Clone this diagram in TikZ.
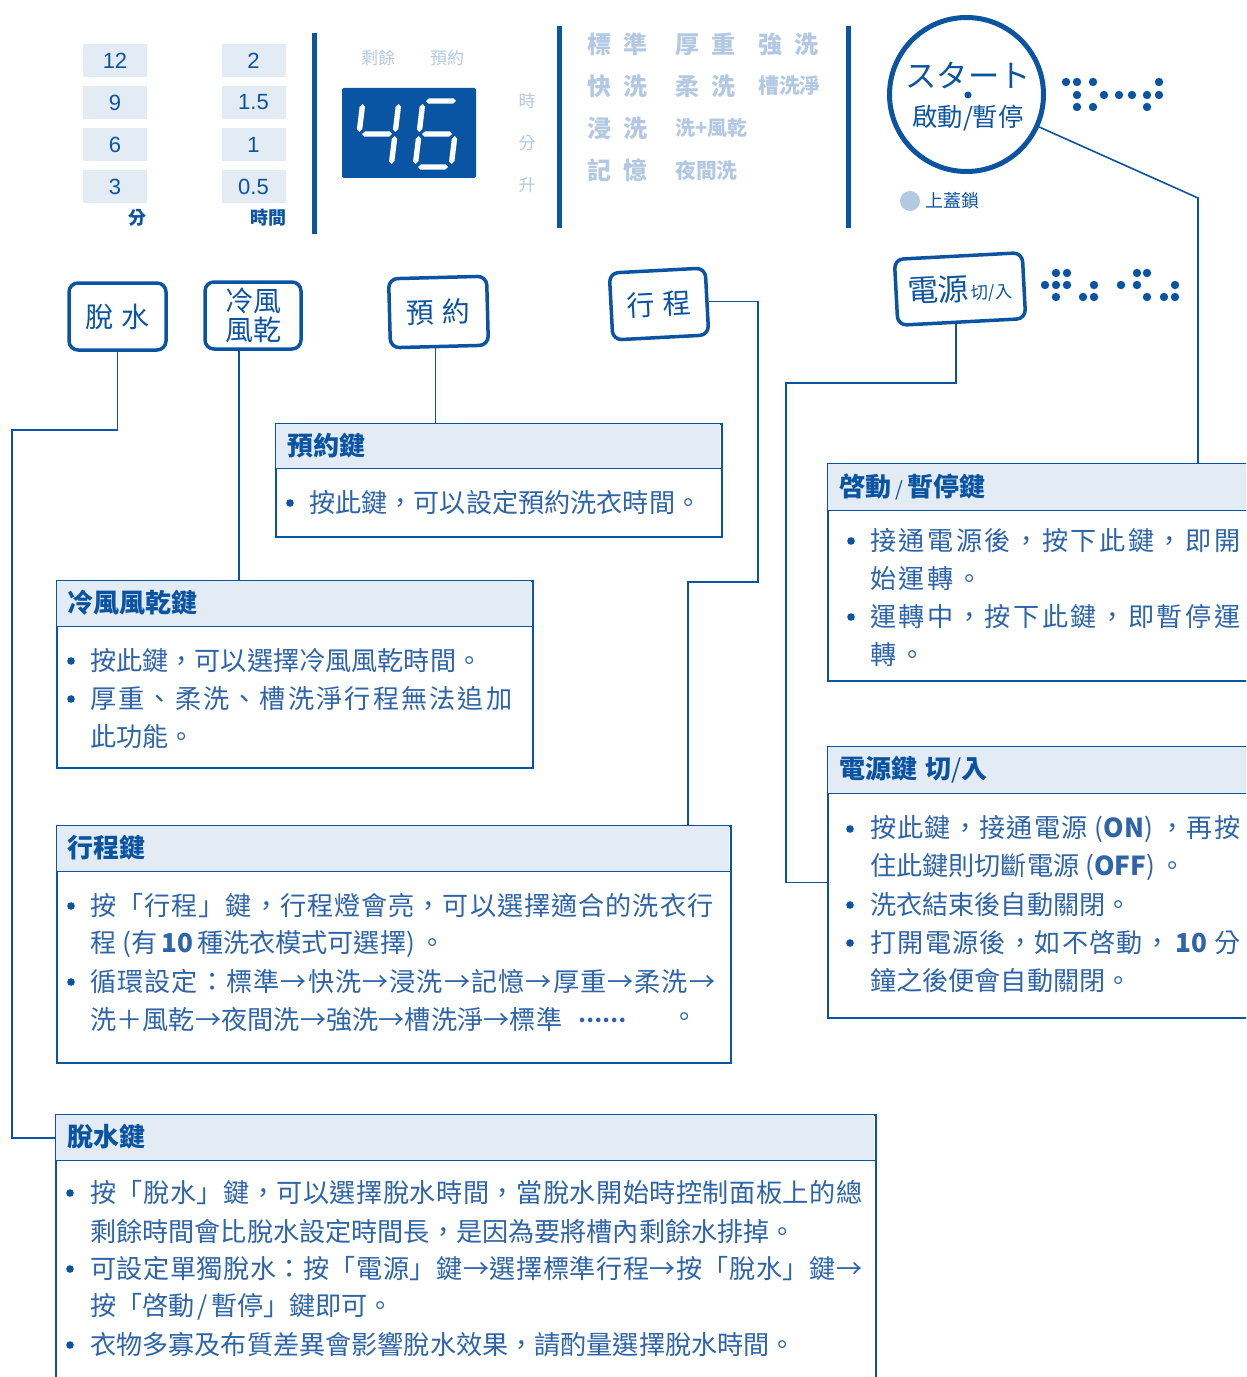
\documentclass[tikz,border=0pt]{standalone}
\usepackage{fontspec}
\setmainfont{Noto Sans CJK TC}
\newfontfamily\latinf{Liberation Sans}
\usetikzlibrary{calc}
\newlength{\upx}\setlength{\upx}{0.75pt}
\definecolor{dblue}{HTML}{0B54A2}
\definecolor{tblue}{HTML}{2D64AA}
\definecolor{lblue}{HTML}{B3C9E3}
\definecolor{pale}{HTML}{E3EBF5}
\definecolor{dispblue}{HTML}{0A55A3}
\newcommand\fz[1]{\fontsize{#1}{#1}\selectfont}
\makeatletter
\def\jl@stop{jlstop}
\def\jl@a#1{#1\jl@b}
\def\jl@b#1{\ifx\jl@stop#1\else\hfil#1\expandafter\jl@b\fi}
\newcommand\jline[2]{\hbox to #1{\jl@a#2\jl@stop}}
\makeatother
\newcommand\ONp{\hspace{6\upx}(\textbf{ON})\hspace{4\upx}}
\newcommand\TEN{\hspace{4\upx}\textbf{10}\hspace{4\upx}}
\newcommand\hsg[3]{\fill[white] (#1,#3) -- ({#1+2.7},{#3-2.7}) -- ({#2-2.7},{#3-2.7}) -- (#2,#3) -- ({#2-2.7},{#3+2.7}) -- ({#1+2.7},{#3+2.7}) -- cycle;}
\newcommand\vsg[3]{\fill[white] (#1,#2) -- ({#1+2.7},{#2+2.7}) -- ({#1+2.7},{#3-2.7}) -- (#1,#3) -- ({#1-2.7},{#3-2.7}) -- ({#1-2.7},{#2+2.7}) -- cycle;}
\tikzset{
  conn/.style={draw=dblue, line width=1.6\upx},
  btn/.style={draw=dblue, line width=3.5\upx, rounded corners=9\upx, fill=white, text=dblue, inner sep=0, font=\fz{21pt}},
  kbox/.style={draw=dblue, line width=2\upx, fill=white, anchor=north west, inner sep=0},
  hdr/.style={fill=pale, anchor=north west, inner sep=0},
  hline/.style={draw=dblue, line width=1\upx},
  htxt/.style={anchor=west, inner sep=0, text=dblue, font=\bfseries\fz{19.5pt}},
  btxt/.style={anchor=west, inner sep=0, text=tblue, font=\fz{19.6pt}},
  numbox/.style={fill=pale, minimum width=64\upx, minimum height=33\upx, inner sep=0, text=dblue, font=\latinf\fz{16.5pt}},
  prog/.style={anchor=west, inner sep=0, text=lblue, font=\bfseries\fz{18pt}},
  progs/.style={anchor=west, inner sep=0, text=lblue, font=\bfseries\fz{15.6pt}},
  dimtxt/.style={inner sep=0, text=lblue, font=\fz{12.75pt}},
  unit/.style={inner sep=0, text=dblue, font=\bfseries\fz{13.5pt}},
}
\begin{document}
\begin{tikzpicture}[x=0.75pt,y=-0.75pt]
\path[use as bounding box] (0,0) rectangle (1246,1377);
\clip (0,0) rectangle (1246,1377);

% ---------- top panel ----------
\foreach \v/\w [count=\i] in {12/2, 9/1.5, 6/1, 3/0.5} {
  \node[numbox] (nl\i) at (115, {60.5+42*(\i-1)}) {\v};
  \node[numbox] (nr\i) at (253.5, {60.5+42*(\i-1)}) {\w};
}
\node[unit] (ufen) at (137,218) {分};
\node[unit] (uhr) at (268,218) {時間};

\draw[dblue, line width=5\upx] (314.5,33) -- (314.5,234);
\draw[dblue, line width=5\upx] (559.5,26) -- (559.5,228);
\draw[dblue, line width=5\upx] (848.5,26) -- (848.5,228);

\node[dimtxt] (dsy) at (378,58) {剩餘};
\node[dimtxt] (dyy) at (447,58) {預約};
\node[dimtxt] (dsh) at (527,101) {時};
\node[dimtxt] (dfe) at (527,143) {分};
\node[dimtxt] (dsg) at (527,185) {升};

\node[fill=dispblue, rounded corners=2\upx, minimum width=134\upx, minimum height=90\upx, inner sep=0] (disp) at (409,133) {};
\begin{scope}[shift={(363,101)}, xslant=0.12]
  \vsg{0}{3}{31}\vsg{36}{3}{31}\hsg{3}{33}{33}\vsg{36}{35}{63}
\end{scope}
\begin{scope}[shift={(423,101)}, xslant=0.12]
  \hsg{3}{33}{0}\vsg{0}{3}{31}\hsg{3}{33}{33}\vsg{0}{35}{63}\hsg{3}{33}{66}\vsg{36}{35}{63}
\end{scope}

\node[prog] (p11) at (587,44) {標\hspace{12\upx}準};
\node[prog] (p12) at (675,44) {厚\hspace{12\upx}重};
\node[prog] (p13) at (758,44) {強\hspace{12\upx}洗};
\node[prog] (p21) at (587,86) {快\hspace{12\upx}洗};
\node[prog] (p22) at (675,86) {柔\hspace{12\upx}洗};
\node[progs] (p23) at (758,86) {槽洗淨};
\node[prog] (p31) at (587,128) {浸\hspace{12\upx}洗};
\node[progs, font=\bfseries\fz{15pt}] (p32) at (675,128) {洗+風乾};
\node[prog] (p41) at (587,170) {記\hspace{12\upx}憶};
\node[progs] (p42) at (675,170) {夜間洗};

% start button
\node[circle, draw=dblue, line width=5\upx, minimum size=154\upx, inner sep=0] (start) at (966.5,94.5) {};
\node[inner sep=0, text=dblue, font=\fz{23.5pt}] (st1) at (968,75) {スタート};
\fill[dblue] (968,95) circle (3.5);
\node[inner sep=0, text=dblue, font=\fz{19pt}] (st2) at (968,118) {啟動/暫停};
\foreach \x/\y in {1066/82,1077/82,1093/82,1159/82,1077/95,1104/95,1119/95,1132/95,1147/95,1159/95,1077/107,1093/107,1147/107}
  \fill[dblue] (\x,\y) circle (4.2);

\fill[lblue] (910,201) circle (10);
\node[inner sep=0, anchor=west, text=dblue, font=\fz{13.5pt}] (lock) at (925,201) {上蓋鎖};

% power button
\node[btn, rotate=3, minimum width=128\upx, minimum height=66\upx] (b5) at (960,289)
  {{\fz{23pt}電源}\hspace{2\upx}{\fz{13pt}切/入}};
\foreach \x/\y in {1056/273,1067/273,1137/273,1147/273,1045/285,1056/285,1067/285,1094/285,1121/285,1137/285,1175/285,1056/297,1083/297,1094/297,1147/297,1164/297,1175/297}
  \fill[dblue] (\x,\y) circle (4.2);

% key buttons
\node[btn, minimum width=97\upx, minimum height=67\upx] (b1) at (117.5,316.5) {脫\hspace{8\upx}水};
\node[btn, minimum width=96\upx, minimum height=67\upx, align=center, font=\fontsize{21pt}{22pt}\selectfont] (b2) at (253,315.5) {冷風\\風乾};
\node[btn, rotate=1.5, minimum width=98\upx, minimum height=69\upx] (b3) at (438.5,312) {預\hspace{8\upx}約};
\node[btn, rotate=3, minimum width=96\upx, minimum height=67\upx] (b4) at (659,304) {行\hspace{8\upx}程};

% ---------- connectors ----------
\coordinate (c1) at (12,430);
\coordinate (b2s) at ([xshift=-14\upx]b2.south);
\coordinate (b3s) at ([xshift=-4\upx]b3.south);
\coordinate (c4a) at (758,582);
\coordinate (c4b) at (688,582);
\coordinate (c5) at (1198,198);
\coordinate (c6a) at (956,383);
\coordinate (c6b) at (786,383);

% ---------- boxes ----------
\node[kbox, minimum width=446\upx, minimum height=113\upx] (k1) at (275,423) {};
\node[hdr, minimum width=444\upx, minimum height=44\upx] (h1) at (276,424) {};
\draw[hline] (h1.south west) -- (h1.south east);
\node[htxt] (ht1) at (287,445.5) {預約鍵};
\fill[dblue] (290,503) circle (3.8);
\node[btxt] (t11) at (309,503) {按此鍵，可以設定預約洗衣時間。};

\node[kbox, minimum width=476\upx, minimum height=187\upx] (k2) at (56,580) {};
\node[hdr, minimum width=474\upx, minimum height=45\upx] (h2) at (57,581) {};
\draw[hline] (h2.south west) -- (h2.south east);
\node[htxt] (ht2) at (67,603) {冷風風乾鍵};
\fill[dblue] (71,661) circle (3.8);
\fill[dblue] (71,699) circle (3.8);
\node[btxt] (t21) at (90,661) {按此鍵，可以選擇冷風風乾時間。};
\node[btxt] (t22) at (90,699) {\jline{422\upx}{厚重、柔洗、槽洗淨行程無法追加}};
\node[btxt] (t23) at (90,737) {此功能。};

\node[kbox, minimum width=674\upx, minimum height=237\upx] (k3) at (56,825) {};
\node[hdr, minimum width=672\upx, minimum height=45\upx] (h3) at (57,826) {};
\draw[hline] (h3.south west) -- (h3.south east);
\node[htxt] (ht3) at (67,848) {行程鍵};
\fill[dblue] (71,906) circle (3.8);
\fill[dblue] (71,982) circle (3.8);
\node[btxt] (t31) at (90,906) {\jline{623\upx}{按「行程」鍵，行程燈會亮，可以選擇適合的洗衣行}};
\node[btxt] (t32) at (90,944) {程\hspace{6\upx}(有\TEN\relax 種洗衣模式可選擇)\hspace{4\upx}。};
\node[btxt] (t33) at (90,982) {\jline{625\upx}{循環設定：標準→快洗→浸洗→記憶→厚重→柔洗→}};
\node[btxt] (t34) at (90,1020) {\jline{472\upx}{洗＋風乾→夜間洗→強洗→槽洗淨→標準}};
\node[btxt, font=\bfseries\fz{16pt}] (t35) at (578,1020) {……};
\node[btxt] (t36) at (671,1020) {。};

\node[kbox, minimum width=820\upx, minimum height=320\upx] (k4) at (55,1114) {};
\node[hdr, minimum width=818\upx, minimum height=45\upx] (h4) at (56,1115) {};
\draw[hline] (h4.south west) -- (h4.south east);
\node[htxt] (ht4) at (67,1137) {脫水鍵};
\fill[dblue] (70,1193) circle (3.8);
\fill[dblue] (70,1269) circle (3.8);
\fill[dblue] (70,1345) circle (3.8);
\node[btxt] (t41) at (90,1193) {\jline{772\upx}{按「脫水」鍵，可以選擇脫水時間，當脫水開始時控制面板上的總}};
\node[btxt] (t42) at (90,1231) {剩餘時間會比脫水設定時間長，是因為要將槽內剩餘水排掉。};
\node[btxt] (t43) at (90,1269) {\jline{772\upx}{可設定單獨脫水：按「電源」鍵→選擇標準行程→按「脫水」鍵→}};
\node[btxt] (t44) at (90,1307) {按「啓動\hspace{3\upx}/\hspace{3\upx}暫停」鍵即可。};
\node[btxt] (t45) at (90,1345) {衣物多寡及布質差異會影響脫水效果，請酌量選擇脫水時間。};

\node[kbox, minimum width=450\upx, minimum height=217\upx] (k5) at (827,463) {};
\node[hdr, minimum width=448\upx, minimum height=46\upx] (h5) at (828,464) {};
\draw[hline] (h5.south west) -- (h5.south east);
\node[htxt] (ht5) at (839,487) {啓動\hspace{4\upx}{\mdseries\fz{15pt}/}\hspace{4\upx}暫停鍵};
\fill[dblue] (851,541) circle (3.8);
\fill[dblue] (851,617) circle (3.8);
\node[btxt] (t51) at (870,541) {\jline{370\upx}{接通電源後，按下此鍵，即開}};
\node[btxt] (t52) at (870,579) {\jline{112\upx}{始運轉。}};
\node[btxt] (t53) at (870,617) {\jline{370\upx}{運轉中，按下此鍵，即暫停運}};
\node[btxt] (t54) at (870,655) {\jline{55\upx}{轉。}};

\node[kbox, minimum width=450\upx, minimum height=271\upx] (k6) at (827,746) {};
\node[hdr, minimum width=448\upx, minimum height=46\upx] (h6) at (828,747) {};
\draw[hline] (h6.south west) -- (h6.south east);
\node[htxt] (ht6) at (839,770) {電源鍵\hspace{8\upx}切{\mdseries /}入};
\fill[dblue] (850,829) circle (3.8);
\fill[dblue] (850,905) circle (3.8);
\fill[dblue] (850,943) circle (3.8);
\node[btxt] (t61) at (870,829) {\jline{370\upx}{按此鍵，接通電源\ONp\relax，再按}};
\node[btxt] (t62) at (870,867) {住此鍵則切斷電源\hspace{6\upx}(\textbf{OFF})\hspace{4\upx}。};
\node[btxt] (t63) at (870,905) {洗衣結束後自動關閉。};
\node[btxt] (t64) at (870,943) {\jline{370\upx}{打開電源後，如不啓動，\TEN\relax 分}};
\node[btxt] (t65) at (870,981) {鐘之後便會自動關閉。};

% ---------- connector lines ----------
\draw[conn] (b1.south) -- (b1.south |- c1) -- (c1) -- (c1 |- h4.west) -- (h4.west);
\draw[conn] (b2s) -- (b2s |- k2.north);
\draw[conn] (b3s) -- (b3s |- k1.north);
\draw[conn] (b4.east) -| (c4a) -- (c4b) -- (c4b |- k3.north);
\draw[conn] (start) -- (c5) -- (c5 |- k5.north);
\draw[conn] (b5.south -| c6a) -- (c6a) -- (c6b) -- (c6b |- k6.west) -- (k6.west);
\end{tikzpicture}
\end{document}
